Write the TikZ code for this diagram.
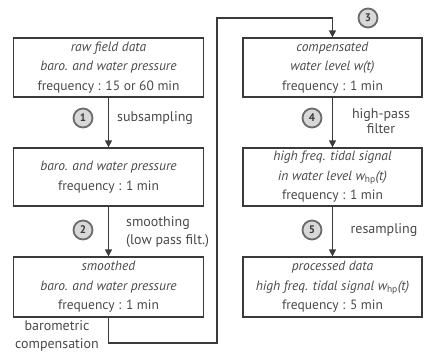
\documentclass[tikz,border=0pt]{standalone}
\usepackage{fontspec}
\setmainfont{PT Sans}
\usetikzlibrary{arrows.meta}
\definecolor{txt}{HTML}{4A4A4A}
\definecolor{ln}{HTML}{3A3A3A}
\definecolor{ringfill}{HTML}{D8D8D8}
\tikzset{
  stepbox/.style={draw=ln, line width=1.3pt, minimum width=190pt, align=center, text=txt,
    font=\fontsize{13.5}{19.5}\selectfont, inner sep=0pt},
  conn/.style={draw=ln, line width=1.3pt, -{Triangle[length=7pt,width=7pt]}},
  num/.style={circle, draw=ln!75, line width=1.8pt, fill=ringfill, minimum size=19pt, inner sep=0pt,
    text=ln, font=\fontsize{11}{11}\selectfont\bfseries},
  lbl/.style={text=txt, font=\fontsize{14}{18}\selectfont, inner sep=0pt}
}
\begin{document}
\begin{tikzpicture}[x=1pt,y=-1pt]
\useasboundingbox (0,0) rectangle (424,354);
% left column
\node[stepbox, minimum height=59pt] (b1) at (108.5,67.5)
  {\textit{raw field data}\\ \textit{baro. and water pressure}\\ frequency : 15 or 60 min};
\node[stepbox, minimum height=58pt] (b2) at (108.5,177)
  {\textit{baro. and water pressure}\\ frequency : 1 min};
\node[stepbox, minimum height=60pt] (b3) at (108.5,287)
  {\textit{smoothed}\\ \textit{baro. and water pressure}\\ frequency : 1 min};
% right column
\node[stepbox, minimum width=179pt, minimum height=59pt] (b4) at (332.5,67.5)
  {\textit{compensated}\\ \textit{water level w(t)}\\ frequency : 1 min};
\node[stepbox, minimum width=179pt, minimum height=58pt] (b5) at (332.5,177)
  {\textit{high freq. tidal signal}\\ \textit{in water level w$_{\mathrm{hp}}$(t)}\\ frequency : 1 min};
\node[stepbox, minimum width=179pt, minimum height=60pt] (b6) at (332.5,287)
  {\textit{processed data}\\ \textit{high freq. tidal signal w$_{\mathrm{hp}}$(t)}\\ frequency : 5 min};
% connectors
\draw[conn] (b1) -- (b2);
\draw[conn] (b2) -- (b3);
\draw[conn] (b4) -- (b5);
\draw[conn] (b5) -- (b6);
\coordinate (c1) at (108.5,343);
\coordinate (c2) at (217,343);
\coordinate (c3) at (217,18);
\coordinate (c4) at (332.5,18);
\draw[conn] (b3.south) -- (c1) -- (c2) -- (c3) -- (c4) -- (b4.north);
% step numbers
\node[num] (n1) at (83,118) {1};
\node[num] (n2) at (83,230) {2};
\node[num] (n3) at (368,18) {3};
\node[num] (n4) at (312,118) {4};
\node[num] (n5) at (312,230) {5};
% labels
\node[lbl, anchor=west] (l1) at (117,118) {subsampling};
\node[lbl, anchor=west, align=left] (l2) at (126,232) {smoothing\\(low pass filt.)};
\node[lbl, align=center, font=\fontsize{14}{15}\selectfont] (l4) at (381,121) {high-pass\\filter};
\node[lbl] (l5) at (384,230) {resampling};
\node[lbl, align=center] (l3) at (57,336) {barometric\\compensation};
\end{tikzpicture}
\end{document}
